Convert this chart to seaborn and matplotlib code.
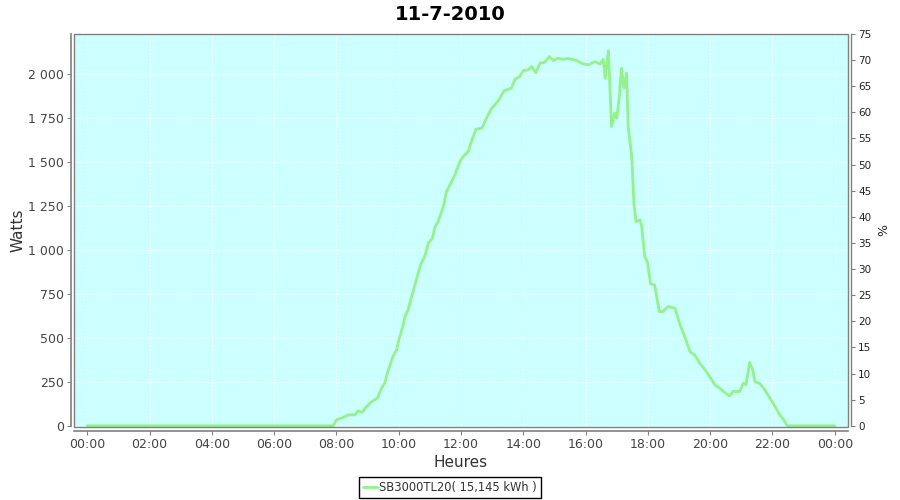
import matplotlib
matplotlib.use("Agg")
import matplotlib.pyplot as plt
from matplotlib.patches import Rectangle
from matplotlib.ticker import FuncFormatter, MultipleLocator
import seaborn as sns
import pandas as pd

# ---- data ----
times = ["00:00", "07:54", "08:00", "08:10", "08:23", "08:36", "08:42", "08:50", "08:55",
         "09:08", "09:19", "09:27", "09:33", "09:40", "09:49", "09:56", "10:01", "10:08",
         "10:12", "10:18", "10:25", "10:34", "10:42", "10:50", "10:57", "11:05", "11:10",
         "11:16", "11:26", "11:32", "11:42", "11:48", "11:58", "12:04", "12:14", "12:20",
         "12:29", "12:40", "12:49", "12:59", "13:08", "13:15", "13:23", "13:37", "13:44",
         "13:53", "14:00", "14:09", "14:16", "14:24", "14:32", "14:41", "14:50", "14:58",
         "15:07", "15:17", "15:26", "15:43", "15:52", "16:05", "16:18", "16:28", "16:34",
         "16:38", "16:44", "16:45", "16:50", "16:56", "17:00", "17:05", "17:09", "17:14",
         "17:19", "17:22", "17:29", "17:33", "17:37", "17:45", "17:48", "17:54", "17:59",
         "18:05", "18:13", "18:22", "18:29", "18:39", "18:52", "19:02", "19:11", "19:21",
         "19:30", "19:40", "19:50", "19:59", "20:09", "20:18", "20:28", "20:38", "20:44",
         "20:57", "21:04", "21:09", "21:16", "21:22", "21:26", "21:36", "21:45", "21:55",
         "22:05", "22:14", "22:21", "22:27", "22:30", "24:00"]
watts = [0, 0, 34, 44, 62, 62, 85, 76, 100,
         138, 157, 214, 243, 318, 394, 432, 498, 564,
         621, 659, 735, 830, 915, 962, 1038, 1066, 1132,
         1161, 1246, 1331, 1388, 1426, 1502, 1530, 1559, 1616,
         1686, 1691, 1748, 1805, 1834, 1862, 1905, 1919, 1970,
         1985, 2019, 2023, 2042, 2007, 2061, 2066, 2098, 2076,
         2089, 2083, 2089, 2076, 2061, 2051, 2070, 2057, 2083,
         1975, 2132, 2061, 1701, 1777, 1748, 1871, 2032, 1919,
         2004, 1701, 1530, 1265, 1161, 1170, 1132, 962, 933,
         807, 801, 649, 649, 678, 669, 574, 507, 422,
         403, 356, 318, 280, 233, 214, 189, 170, 195,
         195, 243, 233, 360, 318, 252, 239, 205, 157,
         110, 62, 38, 6, 0, 0]
series_name = "SB3000TL20( 15,145 kWh )"
title = "11-7-2010"
x_label = "Heures"
y_label = "Watts"
y2_label = "%"

hours = [int(t[:2]) + int(t[3:]) / 60 for t in times]
df = pd.DataFrame({"h": hours, "w": watts, "s": series_name})

sns.set_theme(style="white")
plt.rcParams["font.family"] = ["DejaVu Sans"]

W, H = 900, 500
fig = plt.figure(figsize=(9, 5), dpi=100)
fig.patch.set_facecolor("white")
L, R, T, B = 74, 848, 34, 426.5
ax = fig.add_axes([L / W, 1 - B / H, (R - L) / W, (B - T) / H])
ax.set_facecolor("#ccffff")

line_color = "#94f28c"
sns.lineplot(data=df, x="h", y="w", hue="s", palette=[line_color], lw=2.0,
             ax=ax, legend=False)

ax.set_xlim(-0.425, 24.425)
ax.set_ylim(-4, 2227)
ax.xaxis.set_major_locator(MultipleLocator(2))
ax.yaxis.set_major_locator(MultipleLocator(250))
ax.xaxis.set_major_formatter(FuncFormatter(lambda v, p: f"{int(round(v)) % 24:02d}:00"))
ax.yaxis.set_major_formatter(FuncFormatter(lambda v, p: f"{int(round(v)):,}".replace(",", " ")))

ax.grid(True, color="white", linestyle=(0, (2, 2)), linewidth=0.6, alpha=0.9)
ax.set_axisbelow(True)

grey = "#808080"
for side in ["top", "right"]:
    ax.spines[side].set_visible(False)
for side in ["left", "bottom"]:
    ax.spines[side].set_color(grey)
    ax.spines[side].set_linewidth(1.2)
ax.spines["left"].set_position(("outward", 2.2))
ax.spines["bottom"].set_position(("outward", 3.0))
ax.add_patch(Rectangle((0, 0), 1, 1, transform=ax.transAxes, fill=False,
                       edgecolor=grey, lw=1.0, clip_on=False, zorder=5))

ax.tick_params(axis="both", which="major", direction="out", length=3, width=0.8,
               color=grey, labelcolor="#444444", labelsize=9, pad=2)
ax.tick_params(axis="x", bottom=True)
ax.tick_params(axis="y", left=True)

ax.set_xlabel(x_label, fontsize=11, color="#333333", labelpad=3)
ax.set_ylabel(y_label, fontsize=11, color="#333333", labelpad=2)
fig.text(0.5, 1 - 15 / H, title, fontsize=14, fontweight="bold", color="black",
         ha="center", va="center")

ax2 = ax.twinx()
ax2.set_ylim(-4 * 75 / 2227, 75)
ax2.yaxis.set_major_locator(MultipleLocator(5))
for side in ["top", "left", "bottom"]:
    ax2.spines[side].set_visible(False)
ax2.spines["right"].set_color(grey)
ax2.spines["right"].set_linewidth(1.0)
ax2.spines["right"].set_position(("outward", 2.2))
ax2.tick_params(axis="y", direction="out", length=3, width=0.8, color=grey,
                labelcolor="#222222", labelsize=7.5, pad=2)
ax2.set_ylabel(y2_label, fontsize=9, color="#222222", labelpad=4)
ax2.grid(False)

handle = plt.Line2D([], [], color=line_color, lw=2)
leg = fig.legend([handle], [series_name], loc="lower center",
                 bbox_to_anchor=(0.5, 0.004), frameon=True, fancybox=False,
                 framealpha=1, edgecolor="black", fontsize=8.3, handlelength=1.3,
                 handletextpad=0.15, borderpad=0.35, borderaxespad=0)
leg.get_frame().set_linewidth(1.0)
for t in leg.get_texts():
    t.set_color("#333333")

fig.savefig("out.png", dpi=100)
